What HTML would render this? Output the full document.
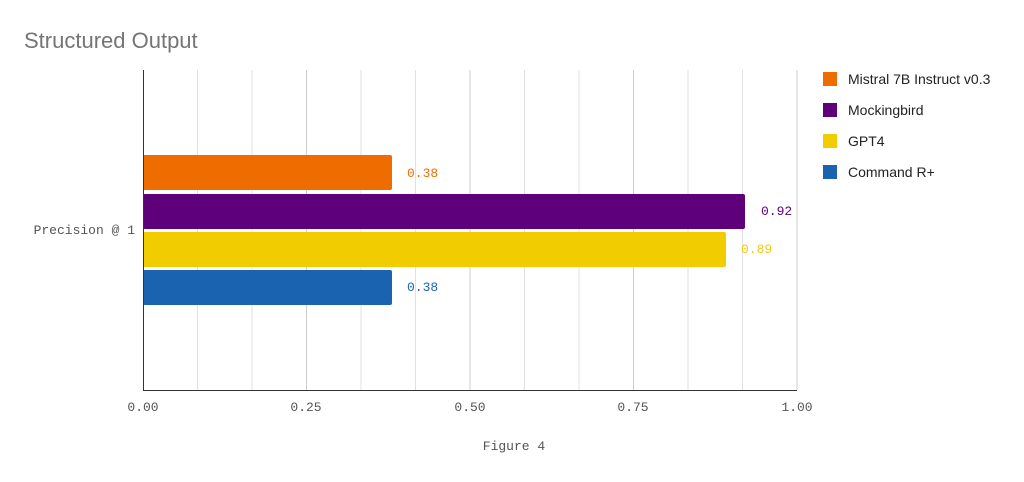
<!DOCTYPE html>
<html><head><style>body{margin:0;background:#fff;}</style></head><body>
<svg width="1024" height="477" xmlns="http://www.w3.org/2000/svg">
<rect width="1024" height="477" fill="#fff"/>
<text x="24" y="48" font-family="Liberation Sans, sans-serif" font-size="22" fill="#757575">Structured Output</text>
<g stroke="#e0e0e0" stroke-width="1">
<line x1="197.5" y1="70" x2="197.5" y2="390"/><line x1="252" y1="70" x2="252" y2="390"/>
<line x1="306.5" y1="70" x2="306.5" y2="390" stroke="#ccc"/><line x1="361" y1="70" x2="361" y2="390"/>
<line x1="415.5" y1="70" x2="415.5" y2="390"/><line x1="470" y1="70" x2="470" y2="390" stroke="#ccc"/>
<line x1="524.5" y1="70" x2="524.5" y2="390"/><line x1="579" y1="70" x2="579" y2="390"/>
<line x1="633.5" y1="70" x2="633.5" y2="390" stroke="#ccc"/><line x1="688" y1="70" x2="688" y2="390"/>
<line x1="742.5" y1="70" x2="742.5" y2="390"/><line x1="797" y1="70" x2="797" y2="390" stroke="#ccc"/>
</g>
<rect x="143" y="155" width="249" height="35" rx="2" fill="#ef6c00"/>
<rect x="143" y="194" width="602" height="35" rx="2" fill="#5e007a"/>
<rect x="143" y="232" width="583" height="35" rx="2" fill="#f1cd00"/>
<rect x="143" y="270" width="249" height="35" rx="2" fill="#1a63b1"/>
<line x1="143.5" y1="70" x2="143.5" y2="391" stroke="#333"/>
<line x1="143" y1="390.5" x2="797" y2="390.5" stroke="#333"/>
<g font-family="Liberation Mono, monospace" font-size="13">
<text x="407" y="177" fill="#ef6c00">0.38</text>
<text x="761" y="215" fill="#5e007a">0.92</text>
<text x="741" y="253" fill="#f1cd00">0.89</text>
<text x="407" y="291" fill="#1a63b1">0.38</text>
<g fill="#555">
<text x="135" y="234" text-anchor="end">Precision @ 1</text>
<text x="143" y="411" text-anchor="middle">0.00</text>
<text x="306" y="411" text-anchor="middle">0.25</text>
<text x="470" y="411" text-anchor="middle">0.50</text>
<text x="633" y="411" text-anchor="middle">0.75</text>
<text x="797" y="411" text-anchor="middle">1.00</text>
<text x="514" y="450" text-anchor="middle">Figure 4</text>
</g></g>
<rect x="823" y="72" width="14" height="14" fill="#ef6c00"/>
<rect x="823" y="103" width="14" height="14" fill="#5e007a"/>
<rect x="823" y="134" width="14" height="14" fill="#f1cd00"/>
<rect x="823" y="165" width="14" height="14" fill="#1a63b1"/>
<g font-family="Liberation Sans, sans-serif" font-size="14" fill="#222">
<text x="848" y="84">Mistral 7B Instruct v0.3</text>
<text x="848" y="115">Mockingbird</text>
<text x="848" y="146">GPT4</text>
<text x="848" y="177">Command R+</text>
</g>
</svg>
</body></html>
